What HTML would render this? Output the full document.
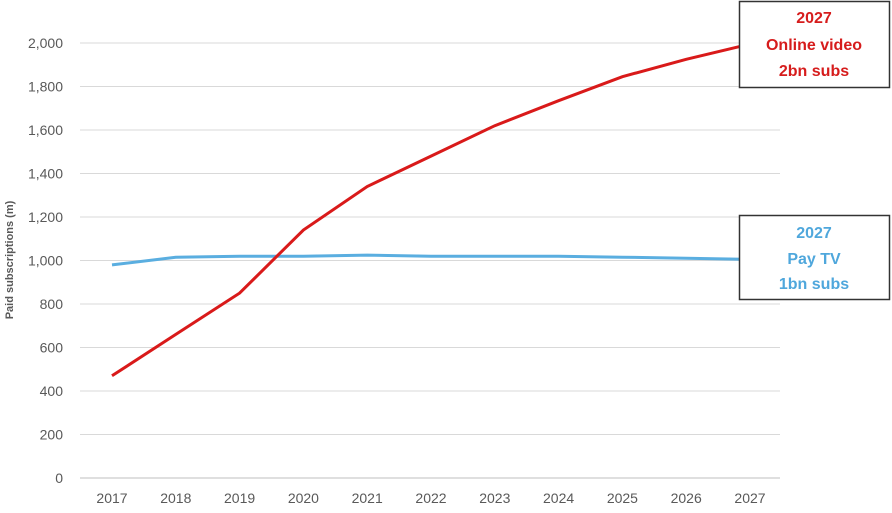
<!DOCTYPE html>
<html><head><meta charset="utf-8"><style>
body{margin:0;background:#fff;width:892px;height:508px;overflow:hidden;font-family:"Liberation Sans",sans-serif}
</style></head><body>
<svg width="892" height="508" xmlns="http://www.w3.org/2000/svg" font-family="Liberation Sans, sans-serif">
<g stroke="#d9d9d9" stroke-width="1">
<line x1="80" x2="780" y1="434.5" y2="434.5"/><line x1="80" x2="780" y1="391" y2="391"/>
<line x1="80" x2="780" y1="347.5" y2="347.5"/><line x1="80" x2="780" y1="304" y2="304"/>
<line x1="80" x2="780" y1="260.5" y2="260.5"/><line x1="80" x2="780" y1="217" y2="217"/>
<line x1="80" x2="780" y1="173.5" y2="173.5"/><line x1="80" x2="780" y1="130" y2="130"/>
<line x1="80" x2="780" y1="86.5" y2="86.5"/><line x1="80" x2="780" y1="43" y2="43"/>
</g>
<line x1="80" x2="780" y1="478" y2="478" stroke="#bfbfbf"/>
<g font-size="14" fill="#595959" text-anchor="end">
<text x="63" y="483">0</text><text x="63" y="439.5">200</text><text x="63" y="396">400</text>
<text x="63" y="352.5">600</text><text x="63" y="309">800</text><text x="63" y="265.5">1,000</text>
<text x="63" y="222">1,200</text><text x="63" y="178.5">1,400</text><text x="63" y="135">1,600</text>
<text x="63" y="91.5">1,800</text><text x="63" y="48">2,000</text>
</g>
<g font-size="14" fill="#595959" text-anchor="middle">
<text x="112" y="503">2017</text><text x="175.8" y="503">2018</text><text x="239.6" y="503">2019</text>
<text x="303.4" y="503">2020</text><text x="367.2" y="503">2021</text><text x="431" y="503">2022</text>
<text x="494.8" y="503">2023</text><text x="558.6" y="503">2024</text><text x="622.4" y="503">2025</text>
<text x="686.2" y="503">2026</text><text x="750" y="503">2027</text>
</g>
<text transform="translate(13,260) rotate(-90)" font-size="11" font-weight="bold" fill="#595959" text-anchor="middle">Paid subscriptions (m)</text>
<polyline fill="none" stroke="#5aaee0" stroke-width="3" points="112,264.9 175.8,257.2 239.6,256.2 303.4,256.2 367.2,255.1 431,256.2 494.8,256.2 558.6,256.2 622.4,257.2 686.2,258.3 750,259.4"/>
<polyline fill="none" stroke="#d91a1a" stroke-width="3" points="112,375.8 175.8,334.4 239.6,293.1 303.4,230 367.2,186.5 431,156.1 494.8,125.7 558.6,100.7 622.4,76.7 686.2,59.3 750,44.1"/>
<rect x="739.5" y="1.5" width="150" height="86" fill="#fff" stroke="#333" stroke-width="1.5"/>
<g font-size="16" font-weight="bold" fill="#d61c1c" text-anchor="middle">
<text x="814" y="23">2027</text><text x="814" y="50">Online video</text><text x="814" y="76">2bn subs</text></g>
<rect x="739.5" y="215.5" width="150" height="84" fill="#fff" stroke="#333" stroke-width="1.5"/>
<g font-size="16" font-weight="bold" fill="#4fa7dc" text-anchor="middle">
<text x="814" y="238">2027</text><text x="814" y="264">Pay TV</text><text x="814" y="289">1bn subs</text></g>
</svg>
</body></html>
